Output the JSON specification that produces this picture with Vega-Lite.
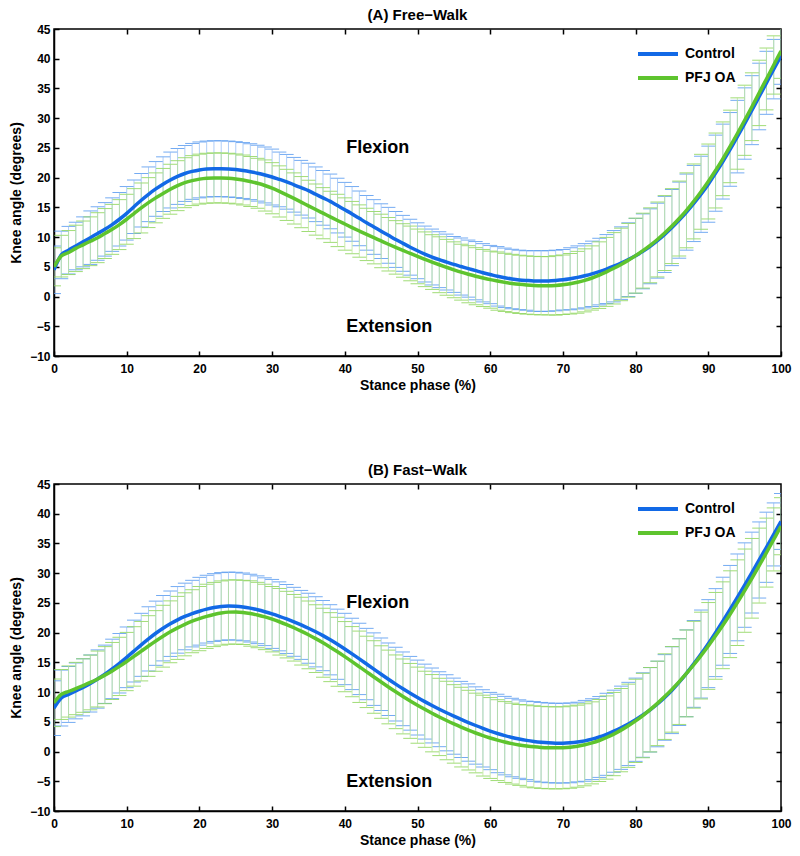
{
  "$schema": "https://vega.github.io/schema/vega-lite/v6.json",
  "padding": {"left": 8, "top": 7, "right": 5, "bottom": 5},
  "spacing": 69,
  "config": {
    "font": "Liberation Sans",
    "view": {"stroke": "black", "strokeWidth": 1.5},
    "axis": {
      "grid": false,
      "labelFont": "Liberation Sans", "labelFontWeight": "bold", "labelFontSize": 12, "labelColor": "black",
      "titleFont": "Liberation Sans", "titleFontWeight": "bold", "titleFontSize": 14, "titleColor": "black",
      "tickColor": "black", "tickWidth": 1.5, "domainColor": "black", "domainWidth": 1.5,
      "labelFlush": false, "labelOverlap": false
    }
  },
  "resolve": {"scale": {"color": "independent"}, "legend": {"color": "independent"}},
  "datasets": {
    "notesA": [{"x": 40.2, "y": 25.0, "t": "Flexion"}, {"x": 40.2, "y": -5.05, "t": "Extension"}],
    "notesB": [{"x": 40.2, "y": 24.96, "t": "Flexion"}, {"x": 40.2, "y": -5.2, "t": "Extension"}],
    "AC": [
      {"x":0,"m":4.5,"s":4.0},{"x":1,"m":7.0,"s":4.0},{"x":2,"m":7.8,"s":4.0},{"x":3,"m":8.5,"s":4.0},{"x":4,"m":9.2,"s":4.2},
      {"x":5,"m":9.9,"s":4.5},{"x":6,"m":10.6,"s":4.5},{"x":7,"m":11.3,"s":4.5},{"x":8,"m":12.1,"s":4.5},{"x":9,"m":13.0,"s":4.5},
      {"x":10,"m":14.0,"s":4.5},{"x":11,"m":15.1,"s":4.5},{"x":12,"m":16.2,"s":4.5},{"x":13,"m":17.2,"s":4.6},{"x":14,"m":18.1,"s":4.6},
      {"x":15,"m":18.9,"s":4.6},{"x":16,"m":19.6,"s":4.7},{"x":17,"m":20.2,"s":4.7},{"x":18,"m":20.7,"s":4.7},{"x":19,"m":21.05,"s":4.7},
      {"x":20,"m":21.3,"s":4.7},{"x":21,"m":21.45,"s":4.7},{"x":22,"m":21.5,"s":4.7},{"x":23,"m":21.5,"s":4.7},{"x":24,"m":21.45,"s":4.7},
      {"x":25,"m":21.35,"s":4.7},{"x":26,"m":21.2,"s":4.7},{"x":27,"m":21.0,"s":4.7},{"x":28,"m":20.75,"s":4.7},{"x":29,"m":20.45,"s":4.7},
      {"x":30,"m":20.1,"s":4.7},{"x":31,"m":19.7,"s":4.6},{"x":32,"m":19.3,"s":4.6},{"x":33,"m":18.8,"s":4.6},{"x":34,"m":18.3,"s":4.6},
      {"x":35,"m":17.8,"s":4.6},{"x":36,"m":17.2,"s":4.6},{"x":37,"m":16.6,"s":4.6},{"x":38,"m":16.0,"s":4.6},{"x":39,"m":15.3,"s":4.6},
      {"x":40,"m":14.6,"s":4.6},{"x":41,"m":13.9,"s":4.6},{"x":42,"m":13.15,"s":4.6},{"x":43,"m":12.4,"s":4.6},{"x":44,"m":11.7,"s":4.6},
      {"x":45,"m":11.0,"s":4.6},{"x":46,"m":10.3,"s":4.7},{"x":47,"m":9.6,"s":4.7},{"x":48,"m":8.95,"s":4.7},{"x":49,"m":8.3,"s":4.7},
      {"x":50,"m":7.7,"s":4.7},{"x":51,"m":7.15,"s":4.7},{"x":52,"m":6.65,"s":4.7},{"x":53,"m":6.2,"s":4.7},{"x":54,"m":5.8,"s":4.7},
      {"x":55,"m":5.4,"s":4.7},{"x":56,"m":5.05,"s":4.8},{"x":57,"m":4.7,"s":4.8},{"x":58,"m":4.35,"s":4.9},{"x":59,"m":4.0,"s":4.9},
      {"x":60,"m":3.7,"s":4.9},{"x":61,"m":3.4,"s":5.0},{"x":62,"m":3.15,"s":5.0},{"x":63,"m":2.95,"s":5.0},{"x":64,"m":2.8,"s":5.0},
      {"x":65,"m":2.7,"s":5.0},{"x":66,"m":2.62,"s":5.1},{"x":67,"m":2.6,"s":5.1},{"x":68,"m":2.62,"s":5.1},{"x":69,"m":2.7,"s":5.1},
      {"x":70,"m":2.82,"s":5.1},{"x":71,"m":3.0,"s":5.2},{"x":72,"m":3.22,"s":5.3},{"x":73,"m":3.5,"s":5.4},{"x":74,"m":3.82,"s":5.5},
      {"x":75,"m":4.2,"s":5.6},{"x":76,"m":4.62,"s":5.8},{"x":77,"m":5.1,"s":6.0},{"x":78,"m":5.62,"s":6.1},{"x":79,"m":6.2,"s":6.2},
      {"x":80,"m":6.85,"s":6.3},{"x":81,"m":7.6,"s":6.3},{"x":82,"m":8.45,"s":6.3},{"x":83,"m":9.4,"s":6.3},{"x":84,"m":10.45,"s":6.4},
      {"x":85,"m":11.6,"s":6.4},{"x":86,"m":12.85,"s":6.4},{"x":87,"m":14.2,"s":6.4},{"x":88,"m":15.65,"s":6.4},{"x":89,"m":17.2,"s":6.4},
      {"x":90,"m":18.9,"s":6.4},{"x":91,"m":20.75,"s":6.4},{"x":92,"m":22.7,"s":6.3},{"x":93,"m":24.75,"s":6.2},{"x":94,"m":26.9,"s":6.1},
      {"x":95,"m":29.1,"s":6.0},{"x":96,"m":31.35,"s":5.8},{"x":97,"m":33.65,"s":5.6},{"x":98,"m":35.95,"s":5.3},{"x":99,"m":38.25,"s":5.0},
      {"x":100,"m":40.5,"s":4.8}
    ],
    "AP": [
      {"x":0,"m":5.0,"s":3.2},{"x":1,"m":6.8,"s":3.5},{"x":2,"m":7.4,"s":3.7},{"x":3,"m":8.1,"s":3.9},{"x":4,"m":8.7,"s":4.0},
      {"x":5,"m":9.3,"s":4.1},{"x":6,"m":9.9,"s":4.2},{"x":7,"m":10.6,"s":4.2},{"x":8,"m":11.3,"s":4.2},{"x":9,"m":12.1,"s":4.2},
      {"x":10,"m":13.0,"s":4.2},{"x":11,"m":13.95,"s":4.2},{"x":12,"m":14.9,"s":4.2},{"x":13,"m":15.8,"s":4.2},{"x":14,"m":16.6,"s":4.2},
      {"x":15,"m":17.35,"s":4.2},{"x":16,"m":18.05,"s":4.2},{"x":17,"m":18.65,"s":4.2},{"x":18,"m":19.15,"s":4.2},{"x":19,"m":19.5,"s":4.2},
      {"x":20,"m":19.75,"s":4.2},{"x":21,"m":19.9,"s":4.2},{"x":22,"m":19.95,"s":4.2},{"x":23,"m":19.95,"s":4.2},{"x":24,"m":19.9,"s":4.2},
      {"x":25,"m":19.78,"s":4.2},{"x":26,"m":19.6,"s":4.2},{"x":27,"m":19.35,"s":4.2},{"x":28,"m":19.05,"s":4.2},{"x":29,"m":18.68,"s":4.3},
      {"x":30,"m":18.22,"s":4.3},{"x":31,"m":17.68,"s":4.3},{"x":32,"m":17.1,"s":4.3},{"x":33,"m":16.5,"s":4.3},{"x":34,"m":15.88,"s":4.3},
      {"x":35,"m":15.25,"s":4.3},{"x":36,"m":14.63,"s":4.3},{"x":37,"m":14.02,"s":4.3},{"x":38,"m":13.41,"s":4.3},{"x":39,"m":12.8,"s":4.4},
      {"x":40,"m":12.2,"s":4.4},{"x":41,"m":11.6,"s":4.4},{"x":42,"m":11.02,"s":4.4},{"x":43,"m":10.45,"s":4.4},{"x":44,"m":9.9,"s":4.4},
      {"x":45,"m":9.35,"s":4.5},{"x":46,"m":8.8,"s":4.5},{"x":47,"m":8.27,"s":4.5},{"x":48,"m":7.75,"s":4.5},{"x":49,"m":7.25,"s":4.6},
      {"x":50,"m":6.75,"s":4.6},{"x":51,"m":6.27,"s":4.6},{"x":52,"m":5.8,"s":4.6},{"x":53,"m":5.35,"s":4.7},{"x":54,"m":4.92,"s":4.7},
      {"x":55,"m":4.5,"s":4.7},{"x":56,"m":4.1,"s":4.7},{"x":57,"m":3.75,"s":4.8},{"x":58,"m":3.42,"s":4.8},{"x":59,"m":3.12,"s":4.8},
      {"x":60,"m":2.84,"s":4.8},{"x":61,"m":2.6,"s":4.9},{"x":62,"m":2.38,"s":4.9},{"x":63,"m":2.2,"s":4.9},{"x":64,"m":2.05,"s":4.9},
      {"x":65,"m":1.94,"s":4.9},{"x":66,"m":1.86,"s":4.9},{"x":67,"m":1.82,"s":4.9},{"x":68,"m":1.82,"s":4.9},{"x":69,"m":1.87,"s":5.0},
      {"x":70,"m":1.98,"s":5.0},{"x":71,"m":2.15,"s":5.1},{"x":72,"m":2.4,"s":5.2},{"x":73,"m":2.72,"s":5.3},{"x":74,"m":3.12,"s":5.4},
      {"x":75,"m":3.6,"s":5.6},{"x":76,"m":4.15,"s":5.8},{"x":77,"m":4.75,"s":6.0},{"x":78,"m":5.4,"s":6.1},{"x":79,"m":6.1,"s":6.2},
      {"x":80,"m":6.88,"s":6.3},{"x":81,"m":7.72,"s":6.3},{"x":82,"m":8.62,"s":6.3},{"x":83,"m":9.6,"s":6.3},{"x":84,"m":10.68,"s":6.3},
      {"x":85,"m":11.85,"s":6.3},{"x":86,"m":13.12,"s":6.3},{"x":87,"m":14.5,"s":6.3},{"x":88,"m":16.0,"s":6.3},{"x":89,"m":17.62,"s":6.3},
      {"x":90,"m":19.35,"s":6.3},{"x":91,"m":21.2,"s":6.3},{"x":92,"m":23.17,"s":6.2},{"x":93,"m":25.25,"s":6.1},{"x":94,"m":27.42,"s":6.0},
      {"x":95,"m":29.65,"s":5.9},{"x":96,"m":31.93,"s":5.7},{"x":97,"m":34.25,"s":5.5},{"x":98,"m":36.6,"s":5.2},{"x":99,"m":38.95,"s":4.9},
      {"x":100,"m":41.3,"s":4.6}
    ],
    "BC": [
      {"x":0,"m":7.3,"s":4.6},{"x":1,"m":9.0,"s":4.7},{"x":2,"m":9.6,"s":4.7},{"x":3,"m":10.2,"s":4.7},{"x":4,"m":10.8,"s":4.8},
      {"x":5,"m":11.45,"s":4.8},{"x":6,"m":12.2,"s":4.9},{"x":7,"m":13.0,"s":4.9},{"x":8,"m":13.9,"s":5.0},{"x":9,"m":14.85,"s":5.0},
      {"x":10,"m":15.85,"s":5.1},{"x":11,"m":16.9,"s":5.2},{"x":12,"m":17.95,"s":5.3},{"x":13,"m":18.95,"s":5.4},{"x":14,"m":19.9,"s":5.4},
      {"x":15,"m":20.75,"s":5.5},{"x":16,"m":21.5,"s":5.5},{"x":17,"m":22.15,"s":5.6},{"x":18,"m":22.72,"s":5.6},{"x":19,"m":23.2,"s":5.6},
      {"x":20,"m":23.6,"s":5.7},{"x":21,"m":23.95,"s":5.7},{"x":22,"m":24.22,"s":5.7},{"x":23,"m":24.4,"s":5.7},{"x":24,"m":24.48,"s":5.7},
      {"x":25,"m":24.45,"s":5.7},{"x":26,"m":24.33,"s":5.7},{"x":27,"m":24.12,"s":5.7},{"x":28,"m":23.85,"s":5.7},{"x":29,"m":23.52,"s":5.7},
      {"x":30,"m":23.15,"s":5.8},{"x":31,"m":22.74,"s":5.8},{"x":32,"m":22.3,"s":5.8},{"x":33,"m":21.82,"s":5.8},{"x":34,"m":21.3,"s":5.8},
      {"x":35,"m":20.74,"s":5.9},{"x":36,"m":20.14,"s":5.9},{"x":37,"m":19.5,"s":5.9},{"x":38,"m":18.8,"s":5.9},{"x":39,"m":18.05,"s":5.9},
      {"x":40,"m":17.25,"s":6.0},{"x":41,"m":16.42,"s":6.0},{"x":42,"m":15.58,"s":6.0},{"x":43,"m":14.72,"s":6.0},{"x":44,"m":13.86,"s":6.1},
      {"x":45,"m":13.0,"s":6.1},{"x":46,"m":12.16,"s":6.1},{"x":47,"m":11.34,"s":6.2},{"x":48,"m":10.55,"s":6.2},{"x":49,"m":9.8,"s":6.2},
      {"x":50,"m":9.08,"s":6.3},{"x":51,"m":8.4,"s":6.3},{"x":52,"m":7.75,"s":6.3},{"x":53,"m":7.12,"s":6.3},{"x":54,"m":6.52,"s":6.4},
      {"x":55,"m":5.95,"s":6.4},{"x":56,"m":5.4,"s":6.4},{"x":57,"m":4.88,"s":6.5},{"x":58,"m":4.38,"s":6.5},{"x":59,"m":3.9,"s":6.5},
      {"x":60,"m":3.45,"s":6.5},{"x":61,"m":3.04,"s":6.6},{"x":62,"m":2.68,"s":6.6},{"x":63,"m":2.36,"s":6.6},{"x":64,"m":2.1,"s":6.6},
      {"x":65,"m":1.88,"s":6.6},{"x":66,"m":1.7,"s":6.7},{"x":67,"m":1.56,"s":6.7},{"x":68,"m":1.46,"s":6.7},{"x":69,"m":1.41,"s":6.7},
      {"x":70,"m":1.41,"s":6.7},{"x":71,"m":1.47,"s":6.7},{"x":72,"m":1.6,"s":6.7},{"x":73,"m":1.8,"s":6.8},{"x":74,"m":2.08,"s":6.8},
      {"x":75,"m":2.45,"s":6.8},{"x":76,"m":2.9,"s":6.9},{"x":77,"m":3.42,"s":6.9},{"x":78,"m":4.0,"s":7.0},{"x":79,"m":4.64,"s":7.0},
      {"x":80,"m":5.35,"s":7.0},{"x":81,"m":6.14,"s":7.1},{"x":82,"m":7.02,"s":7.1},{"x":83,"m":8.0,"s":7.2},{"x":84,"m":9.1,"s":7.2},
      {"x":85,"m":10.32,"s":7.3},{"x":86,"m":11.68,"s":7.3},{"x":87,"m":13.16,"s":7.3},{"x":88,"m":14.74,"s":7.3},{"x":89,"m":16.4,"s":7.4},
      {"x":90,"m":18.15,"s":7.4},{"x":91,"m":20.0,"s":7.4},{"x":92,"m":21.92,"s":7.4},{"x":93,"m":23.9,"s":7.4},{"x":94,"m":25.93,"s":7.3},
      {"x":95,"m":28.0,"s":7.1},{"x":96,"m":30.1,"s":6.8},{"x":97,"m":32.22,"s":6.4},{"x":98,"m":34.36,"s":5.9},{"x":99,"m":36.52,"s":5.3},
      {"x":100,"m":38.7,"s":4.7}
    ],
    "BP": [
      {"x":0,"m":8.2,"s":4.0},{"x":1,"m":9.6,"s":4.2},{"x":2,"m":10.1,"s":4.3},{"x":3,"m":10.6,"s":4.4},{"x":4,"m":11.1,"s":4.5},
      {"x":5,"m":11.62,"s":4.6},{"x":6,"m":12.2,"s":4.7},{"x":7,"m":12.85,"s":4.8},{"x":8,"m":13.55,"s":4.8},{"x":9,"m":14.32,"s":4.9},
      {"x":10,"m":15.14,"s":4.9},{"x":11,"m":16.0,"s":5.0},{"x":12,"m":16.88,"s":5.0},{"x":13,"m":17.75,"s":5.1},{"x":14,"m":18.6,"s":5.1},
      {"x":15,"m":19.4,"s":5.2},{"x":16,"m":20.14,"s":5.2},{"x":17,"m":20.8,"s":5.3},{"x":18,"m":21.4,"s":5.3},{"x":19,"m":21.92,"s":5.3},
      {"x":20,"m":22.36,"s":5.4},{"x":21,"m":22.74,"s":5.4},{"x":22,"m":23.05,"s":5.4},{"x":23,"m":23.3,"s":5.4},{"x":24,"m":23.45,"s":5.4},
      {"x":25,"m":23.48,"s":5.4},{"x":26,"m":23.4,"s":5.4},{"x":27,"m":23.22,"s":5.5},{"x":28,"m":22.96,"s":5.5},{"x":29,"m":22.64,"s":5.5},
      {"x":30,"m":22.26,"s":5.5},{"x":31,"m":21.83,"s":5.6},{"x":32,"m":21.35,"s":5.6},{"x":33,"m":20.82,"s":5.6},{"x":34,"m":20.25,"s":5.7},
      {"x":35,"m":19.64,"s":5.7},{"x":36,"m":18.99,"s":5.7},{"x":37,"m":18.3,"s":5.8},{"x":38,"m":17.56,"s":5.8},{"x":39,"m":16.78,"s":5.8},
      {"x":40,"m":15.96,"s":5.9},{"x":41,"m":15.12,"s":5.9},{"x":42,"m":14.26,"s":6.0},{"x":43,"m":13.4,"s":6.0},{"x":44,"m":12.54,"s":6.1},
      {"x":45,"m":11.69,"s":6.1},{"x":46,"m":10.86,"s":6.2},{"x":47,"m":10.05,"s":6.2},{"x":48,"m":9.27,"s":6.3},{"x":49,"m":8.52,"s":6.3},
      {"x":50,"m":7.8,"s":6.4},{"x":51,"m":7.11,"s":6.4},{"x":52,"m":6.45,"s":6.5},{"x":53,"m":5.82,"s":6.5},{"x":54,"m":5.22,"s":6.6},
      {"x":55,"m":4.65,"s":6.6},{"x":56,"m":4.11,"s":6.7},{"x":57,"m":3.6,"s":6.7},{"x":58,"m":3.12,"s":6.7},{"x":59,"m":2.68,"s":6.8},
      {"x":60,"m":2.28,"s":6.8},{"x":61,"m":1.92,"s":6.8},{"x":62,"m":1.6,"s":6.8},{"x":63,"m":1.33,"s":6.8},{"x":64,"m":1.11,"s":6.8},
      {"x":65,"m":0.94,"s":6.9},{"x":66,"m":0.8,"s":6.9},{"x":67,"m":0.7,"s":6.9},{"x":68,"m":0.64,"s":6.9},{"x":69,"m":0.62,"s":6.9},
      {"x":70,"m":0.65,"s":6.9},{"x":71,"m":0.74,"s":6.9},{"x":72,"m":0.9,"s":6.9},{"x":73,"m":1.14,"s":6.9},{"x":74,"m":1.46,"s":6.9},
      {"x":75,"m":1.86,"s":6.9},{"x":76,"m":2.36,"s":7.0},{"x":77,"m":2.94,"s":7.0},{"x":78,"m":3.6,"s":7.0},{"x":79,"m":4.34,"s":7.0},
      {"x":80,"m":5.16,"s":7.0},{"x":81,"m":6.06,"s":7.1},{"x":82,"m":7.04,"s":7.1},{"x":83,"m":8.1,"s":7.1},{"x":84,"m":9.24,"s":7.2},
      {"x":85,"m":10.46,"s":7.2},{"x":86,"m":11.76,"s":7.2},{"x":87,"m":13.14,"s":7.3},{"x":88,"m":14.6,"s":7.3},{"x":89,"m":16.14,"s":7.3},
      {"x":90,"m":17.76,"s":7.3},{"x":91,"m":19.46,"s":7.3},{"x":92,"m":21.24,"s":7.3},{"x":93,"m":23.1,"s":7.3},{"x":94,"m":25.04,"s":7.2},
      {"x":95,"m":27.06,"s":7.0},{"x":96,"m":29.14,"s":6.7},{"x":97,"m":31.28,"s":6.3},{"x":98,"m":33.46,"s":5.8},{"x":99,"m":35.68,"s":5.3},
      {"x":100,"m":37.9,"s":4.8}
    ]
  },
  "vconcat": [
    {
      "title": {"text": "(A) Free−Walk", "fontSize": 15, "fontWeight": "bold", "font": "Liberation Sans", "color": "black", "offset": 0, "anchor": "middle"},
      "width": 727, "height": 327,
      "resolve": {"axis": {"x": "independent", "y": "independent"}},
      "layer": [
        {
          "data": {"name": "AC"},
          "mark": {"type": "errorbar", "clip": true, "ticks": {"size": 14, "thickness": 1, "color": "#5c9cf0", "opacity": 0.85}, "rule": {"strokeWidth": 0.7, "color": "#8cb8f3"}},
          "encoding": {
            "x": {"field": "x", "type": "quantitative", "scale": {"domain": [0, 100], "nice": false},
                  "axis": {"values": [0,10,20,30,40,50,60,70,80,90,100], "tickSize": -5, "labelPadding": 12, "title": "Stance phase (%)", "titlePadding": 4}},
            "y": {"field": "m", "type": "quantitative", "scale": {"domain": [-10, 45], "nice": false, "zero": false},
                  "axis": {"values": [-10,-5,0,5,10,15,20,25,30,35,40,45], "tickSize": -5, "labelPadding": 9, "title": "Knee angle (degrees)", "titlePadding": 6}},
            "yError": {"field": "s"}
          }
        },
        {
          "data": {"name": "AP"},
          "mark": {"type": "errorbar", "clip": true, "ticks": {"size": 14, "thickness": 1, "color": "#8fd65e", "opacity": 0.85}, "rule": {"strokeWidth": 0.7, "color": "#b4e38c"}},
          "encoding": {
            "x": {"field": "x", "type": "quantitative", "axis": null},
            "y": {"field": "m", "type": "quantitative", "axis": null},
            "yError": {"field": "s"}
          }
        },
        {
          "data": {"name": "AC"},
          "mark": {"type": "line", "strokeWidth": 3.5, "clip": true, "interpolate": "monotone"},
          "encoding": {
            "x": {"field": "x", "type": "quantitative", "axis": null},
            "y": {"field": "m", "type": "quantitative", "axis": null},
            "color": {"datum": "Control", "type": "nominal",
                      "scale": {"domain": ["Control", "PFJ OA"], "range": ["#1269e6", "#5ec42e"]},
                      "legend": {"orient": "none", "legendX": 592, "legendY": 13, "title": null, "symbolType": "M-2,0H2", "symbolSize": 400, "symbolStrokeWidth": 4, "labelFontSize": 14, "labelFontWeight": "bold", "labelFont": "Liberation Sans", "labelColor": "black", "labelOffset": 15, "rowPadding": 4}}
          }
        },
        {
          "data": {"name": "AP"},
          "mark": {"type": "line", "strokeWidth": 3.5, "clip": true, "interpolate": "monotone"},
          "encoding": {
            "x": {"field": "x", "type": "quantitative", "axis": null},
            "y": {"field": "m", "type": "quantitative", "axis": null},
            "color": {"datum": "PFJ OA", "type": "nominal"}
          }
        },
        {
          "mark": {"type": "rule", "color": "black", "strokeWidth": 1.8},
          "encoding": {"y": {"datum": 0, "type": "quantitative", "axis": null}}
        },
        {
          "data": {"name": "notesA"},
          "mark": {"type": "text", "align": "left", "baseline": "middle", "fontSize": 18, "fontWeight": "bold", "font": "Liberation Sans", "color": "black"},
          "encoding": {
            "x": {"field": "x", "type": "quantitative", "axis": {"orient": "top", "labels": false, "title": null, "domain": false, "tickSize": -5, "values": [10,20,30,40,50,60,70,80,90]}},
            "y": {"field": "y", "type": "quantitative", "axis": {"orient": "right", "labels": false, "title": null, "domain": false, "tickSize": -5, "values": [-5,0,5,10,15,20,25,30,35,40]}},
            "text": {"field": "t"}
          }
        }
      ]
    },
    {
      "title": {"text": "(B) Fast−Walk", "fontSize": 15, "fontWeight": "bold", "font": "Liberation Sans", "color": "black", "offset": 0, "anchor": "middle"},
      "width": 727, "height": 327,
      "resolve": {"axis": {"x": "independent", "y": "independent"}},
      "layer": [
        {
          "data": {"name": "BC"},
          "mark": {"type": "errorbar", "clip": true, "ticks": {"size": 14, "thickness": 1, "color": "#5c9cf0", "opacity": 0.85}, "rule": {"strokeWidth": 0.7, "color": "#8cb8f3"}},
          "encoding": {
            "x": {"field": "x", "type": "quantitative", "scale": {"domain": [0, 100], "nice": false},
                  "axis": {"values": [0,10,20,30,40,50,60,70,80,90,100], "tickSize": -5, "labelPadding": 12, "title": "Stance phase (%)", "titlePadding": 4}},
            "y": {"field": "m", "type": "quantitative", "scale": {"domain": [-10, 45], "nice": false, "zero": false},
                  "axis": {"values": [-10,-5,0,5,10,15,20,25,30,35,40,45], "tickSize": -5, "labelPadding": 9, "title": "Knee angle (degrees)", "titlePadding": 6}},
            "yError": {"field": "s"}
          }
        },
        {
          "data": {"name": "BP"},
          "mark": {"type": "errorbar", "clip": true, "ticks": {"size": 14, "thickness": 1, "color": "#8fd65e", "opacity": 0.85}, "rule": {"strokeWidth": 0.7, "color": "#b4e38c"}},
          "encoding": {
            "x": {"field": "x", "type": "quantitative", "axis": null},
            "y": {"field": "m", "type": "quantitative", "axis": null},
            "yError": {"field": "s"}
          }
        },
        {
          "data": {"name": "BC"},
          "mark": {"type": "line", "strokeWidth": 3.5, "clip": true, "interpolate": "monotone"},
          "encoding": {
            "x": {"field": "x", "type": "quantitative", "axis": null},
            "y": {"field": "m", "type": "quantitative", "axis": null},
            "color": {"datum": "Control", "type": "nominal",
                      "scale": {"domain": ["Control", "PFJ OA"], "range": ["#1269e6", "#5ec42e"]},
                      "legend": {"orient": "none", "legendX": 592, "legendY": 13, "title": null, "symbolType": "M-2,0H2", "symbolSize": 400, "symbolStrokeWidth": 4, "labelFontSize": 14, "labelFontWeight": "bold", "labelFont": "Liberation Sans", "labelColor": "black", "labelOffset": 15, "rowPadding": 4}}
          }
        },
        {
          "data": {"name": "BP"},
          "mark": {"type": "line", "strokeWidth": 3.5, "clip": true, "interpolate": "monotone"},
          "encoding": {
            "x": {"field": "x", "type": "quantitative", "axis": null},
            "y": {"field": "m", "type": "quantitative", "axis": null},
            "color": {"datum": "PFJ OA", "type": "nominal"}
          }
        },
        {
          "mark": {"type": "rule", "color": "black", "strokeWidth": 1.8},
          "encoding": {"y": {"datum": 0, "type": "quantitative", "axis": null}}
        },
        {
          "data": {"name": "notesB"},
          "mark": {"type": "text", "align": "left", "baseline": "middle", "fontSize": 18, "fontWeight": "bold", "font": "Liberation Sans", "color": "black"},
          "encoding": {
            "x": {"field": "x", "type": "quantitative", "axis": {"orient": "top", "labels": false, "title": null, "domain": false, "tickSize": -5, "values": [10,20,30,40,50,60,70,80,90]}},
            "y": {"field": "y", "type": "quantitative", "axis": {"orient": "right", "labels": false, "title": null, "domain": false, "tickSize": -5, "values": [-5,0,5,10,15,20,25,30,35,40]}},
            "text": {"field": "t"}
          }
        }
      ]
    }
  ]
}
